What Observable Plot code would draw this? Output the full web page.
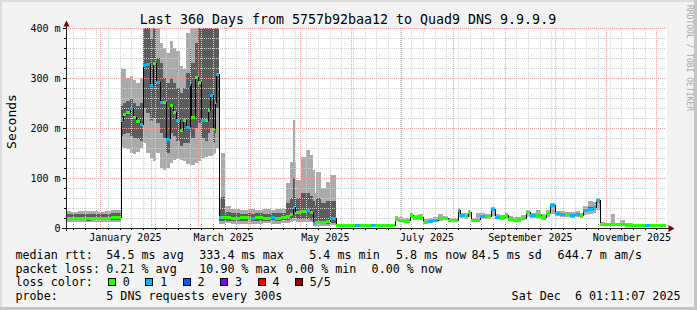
<!DOCTYPE html>
<html><head><meta charset="utf-8">
<script src="https://cdn.jsdelivr.net/npm/d3@7"></script>
<script src="https://cdn.jsdelivr.net/npm/@observablehq/plot@0.6"></script>
<style>
html,body{margin:0;padding:0;background:#f3f3f3;overflow:hidden}
#chart svg{display:block}
</style></head><body><div id="chart"></div>
<script>
// ---------- data (ms) ----------
const dates = [
 "2024-12-11T17:00Z","2024-12-15","2024-12-19","2024-12-23","2024-12-27","2024-12-31","2025-01-04","2025-01-08",
 "2025-01-13T12:00Z","2025-01-15","2025-01-17","2025-01-19","2025-01-21","2025-01-23","2025-01-25","2025-01-27",
 "2025-01-29","2025-01-31","2025-02-02","2025-02-04","2025-02-06","2025-02-08","2025-02-10","2025-02-12",
 "2025-02-14","2025-02-16","2025-02-18","2025-02-20","2025-02-22","2025-02-24","2025-02-25","2025-02-27",
 "2025-03-01","2025-03-03","2025-03-05","2025-03-07","2025-03-08","2025-03-10","2025-03-11","2025-03-12",
 "2025-03-13T16:00Z","2025-03-15","2025-03-17","2025-03-21","2025-03-26","2025-03-31","2025-04-02","2025-04-04",
 "2025-04-09","2025-04-14","2025-04-16","2025-04-20","2025-04-23","2025-04-25","2025-04-27","2025-04-28",
 "2025-04-29","2025-05-02","2025-05-05","2025-05-07","2025-05-09","2025-05-10","2025-05-11","2025-05-14",
 "2025-05-17","2025-05-19",
 "2025-05-22T16:00Z","2025-05-28","2025-06-03","2025-06-06","2025-06-13","2025-06-15","2025-06-21",
 "2025-06-27","2025-06-29","2025-07-02","2025-07-06","2025-07-08","2025-07-11","2025-07-14","2025-07-17",
 "2025-07-20","2025-07-23","2025-07-26","2025-07-29","2025-08-01","2025-08-04","2025-08-05","2025-08-08",
 "2025-08-10","2025-08-12","2025-08-15","2025-08-17","2025-08-20","2025-08-24","2025-08-26","2025-08-29",
 "2025-09-01","2025-09-03","2025-09-06","2025-09-09","2025-09-11","2025-09-14","2025-09-16","2025-09-20",
 "2025-09-23","2025-09-26","2025-09-28","2025-10-01","2025-10-04","2025-10-07","2025-10-10","2025-10-13",
 "2025-10-16","2025-10-18","2025-10-21","2025-10-24","2025-10-26",
 "2025-10-28","2025-10-31","2025-11-04","2025-11-06","2025-11-09","2025-11-12","2025-11-17","2025-11-21",
 "2025-11-24","2025-11-27","2025-11-30","2025-12-03","2025-12-06T17:00Z"
];
const median = [
 21,20,21,20,21,20,21,22,
 217,228,232,240,222,214,209,326,
 329,286,331,293,253,253,179,246,
 233,216,196,216,203,289,223,303,
 293,216,216,236,266,199,253,309,
 22,23,22,21,22,21,21,22,
 21,22,21,22,25,29,43,30,
 33,34,36,32,10,13,13,13,
 14,20,
 6,6,6,6,6,6,6,
 19,17,15,27,22,22,13,14,
 16,20,21,16,16,36,26,25,
 33,16,17,24,25,38,23,22,
 27,19,17,18,21,33,26,26,
 22,31,46,30,29,28,27,28,
 26,36,39,42,56,
 9,8,8,8,8,7,6,6,
 6,6,6,6,6
];
const loss = [
 0,0,0,0,0,0,0,0,
 1,0,0,1,0,0,1,1,
 1,1,0,1,1,0,1,0,
 0,1,0,0,1,1,0,0,
 0,1,0,0,1,0,0,1,
 1,0,0,0,0,0,1,0,
 0,1,0,0,0,0,1,0,
 0,0,1,0,1,0,0,0,
 0,1,
 0,0,1,0,1,0,0,
 0,0,0,0,0,0,0,1,
 1,0,0,0,0,1,1,0,
 0,0,0,1,0,1,1,0,
 0,0,0,0,0,0,1,0,
 0,0,1,1,1,0,1,1,
 0,1,1,1,1,
 0,0,0,0,0,0,0,0,
 1,0,0,0,0
];
const smokeLow = [
 12,12,13,12,12,13,12,12,
 162,160,158,150,148,152,160,170,
 150,140,135,150,120,116,120,130,
 136,138,136,134,128,124,126,130,
 135,140,142,145,145,148,150,160,
 8,8,10,9,9,9,9,9,
 10,9,9,10,10,12,14,14,
 13,12,12,12,5,5,5,5,
 5,6,
 5,5,5,5,5,5,5,
 14,13,11,18,17,16,10,10,
 12,15,16,12,12,22,20,19,
 22,12,13,18,19,25,18,16,
 19,14,12,13,16,22,20,19,
 17,22,28,24,23,22,21,22,
 20,26,28,30,36,
 6,6,6,6,6,5,5,5,
 5,5,5,5,5
];
const smokeHigh = [
 34,33,34,35,34,33,34,36,
 320,318,300,305,296,290,300,420,
 420,420,420,400,370,360,350,375,
 360,355,325,318,390,420,400,420,
 420,420,420,420,420,420,420,420,
 60,150,45,38,37,38,38,37,
 38,37,38,39,90,133,216,133,
 96,143,156,146,116,70,113,80,
 93,106,
 8,8,8,8,8,8,8,
 24,22,21,31,27,28,18,20,
 22,28,25,21,20,40,31,30,
 37,21,30,30,29,42,28,27,
 31,24,22,23,26,36,31,36,
 28,36,50,35,34,33,32,34,
 31,44,55,52,60,
 12,11,29,11,16,10,9,8,
 8,9,8,8,8
];
const coreLow = [
 16,16,16,15,16,16,16,16,
 185,188,190,185,180,178,175,240,
 230,215,220,210,190,180,150,190,
 185,175,165,170,170,190,180,200,
 210,180,175,190,200,170,190,240,
 14,15,15,15,15,16,15,15,
 15,16,15,16,16,18,20,18,
 18,18,18,17,8,8,8,8,
 8,10,
 5,5,5,5,5,5,5,
 17,15,13,25,20,20,11,12,
 14,18,19,14,14,33,24,23,
 30,14,15,22,23,35,21,20,
 25,17,15,16,19,30,24,24,
 20,29,42,28,27,26,25,26,
 24,33,36,39,50,
 7,7,7,7,7,6,5,5,
 5,5,5,5,5
];
const coreHigh = [
 29,28,29,29,28,28,29,30,
 245,250,255,260,250,245,250,420,
 400,380,420,340,330,300,290,300,
 290,280,270,280,310,360,330,370,
 420,420,400,420,420,400,420,420,
 40,62,32,30,29,30,29,30,
 29,30,30,31,50,60,100,65,
 60,70,70,65,55,45,60,50,
 55,55,
 7,7,7,7,7,7,7,
 21,19,17,29,24,24,15,16,
 18,22,23,18,18,38,28,27,
 35,18,19,26,27,40,25,24,
 29,21,19,20,23,35,28,28,
 24,33,48,32,31,30,29,30,
 28,38,42,45,58,
 10,9,10,9,9,8,7,7,
 7,7,7,7,7
];

const timeDomain = ["2024-12-11T17:00Z", "2025-12-06T17:00Z"];
const yTicks = [0, 100, 200, 300, 400];
const monthLabels = ["January 2025", "March 2025", "May 2025", "July 2025", "September 2025", "November 2025"];
const monthLabelDates = ["2025-01-16", "2025-03-16", "2025-05-16", "2025-07-16", "2025-09-16", "2025-11-16"];
const lossColors = ["#26ff00", "#00b8ff", "#0059ff", "#7e00ff", "#ff0000", "#a10000"];
const lossLabels = ["0", "1", "2", "3", "4", "5/5"];
const titleText = "Last 360 Days from 5757b92baa12 to Quad9 DNS 9.9.9.9";
const yTitle = "Seconds";
const rttStats = ["54.5 ms avg", "333.4 ms max", "5.4 ms min", "5.8 ms now", "84.5 ms sd", "644.7 m am/s"];
const lossStats = ["0.21 % avg", "10.90 % max", "0.00 % min", "0.00 % now"];
const probeText = "5 DNS requests every 300s";
const stampText = "Sat Dec  6 01:11:07 2025";
const watermark = "RRDTOOL / TOBI OETIKER";

// ---------- build ----------
const rows = dates.map((d, i) => ({
  date: new Date(d), med: median[i], loss: loss[i],
  lo: smokeLow[i], hi: smokeHigh[i], lo2: coreLow[i], hi2: coreHigh[i]
}));
rows.forEach((r, i) => { r.next = i < rows.length - 1 ? rows[i + 1].date : r.date; r.color = lossColors[r.loss]; });

const dom = timeDomain.map(d => new Date(d));
const weeks = d3.utcMonday.range(dom[0], dom[1]);
const months = d3.utcMonth.range(dom[0], dom[1]);
const yMinor = d3.range(20, 400, 20).filter(v => v % 100 !== 0);
const labelDates = monthLabelDates.map(d => new Date(d));
const labelByTime = new Map(labelDates.map((d, i) => [+d, monthLabels[i]]));

const FONT = "'DejaVu Sans Mono', monospace";
const minorGrid = "#cfcfcf";
const majorGrid = "#eda3a3";

const plot = Plot.plot({
  width: 697, height: 310,
  marginLeft: 66, marginRight: 31, marginTop: 28, marginBottom: 82,
  style: {background: "transparent", fontFamily: FONT, fontSize: "10px", color: "#000", overflow: "visible"},
  x: {type: "utc", domain: dom, axis: null},
  y: {domain: [0, 400], axis: null},
  color: {type: "identity"},
  marks: [
    Plot.frame({fill: "#ffffff", stroke: null}),
    Plot.areaY(rows, {x: "date", y1: "lo", y2: "hi", curve: "step-after", fill: "#aaaaaa", clip: true}),
    Plot.areaY(rows, {x: "date", y1: "lo2", y2: "hi2", curve: "step-after", fill: "#5c5c5c", clip: true}),
    Plot.ruleY(yMinor, {stroke: minorGrid, strokeDasharray: "1,1"}),
    Plot.ruleX(weeks, {stroke: minorGrid, strokeDasharray: "1,1"}),
    Plot.ruleY(yTicks.filter(v => v > 0), {stroke: majorGrid, strokeDasharray: "1,1"}),
    Plot.ruleX(months, {stroke: majorGrid, strokeDasharray: "1,1"}),
    Plot.line(rows, {x: "date", y: "med", curve: "step-after", stroke: "#000", strokeWidth: 1, clip: true}),
    Plot.ruleY(rows.slice(0, -1), {x1: "date", x2: "next", y: "med", stroke: "color", strokeWidth: 3, clip: true}),
    Plot.axisY(yMinor, {anchor: "left", tickSize: 2, tickFormat: () => "", label: null}),
    Plot.axisY(yTicks, {anchor: "left", tickSize: 3, tickPadding: 3, tickFormat: v => v ? v + " m" : "0", label: null, fontSize: 10}),
    Plot.axisX(weeks, {anchor: "bottom", tickSize: 2, tickFormat: () => "", label: null}),
    Plot.axisX(labelDates, {anchor: "bottom", tickSize: 0, tickPadding: 5.5, tickFormat: d => labelByTime.get(+d), label: null, fontSize: 10})
  ]
});
document.getElementById("chart").appendChild(plot);

// ---------- rrdtool style decorations ----------
const svg = d3.select(plot).attr("shape-rendering", "crispEdges");
const deco = svg.append("g");
// axes lines
deco.append("line").attr("x1", 66.5).attr("x2", 66.5).attr("y1", 231).attr("y2", 24).attr("stroke", "#202020");
deco.append("line").attr("x1", 62).attr("x2", 670).attr("y1", 228.5).attr("y2", 228.5).attr("stroke", "#202020");
deco.append("path").attr("d", "M63.5,26.5L69.5,26.5L66.5,20.5Z").attr("fill", "#800000").attr("shape-rendering", "auto");
deco.append("path").attr("d", "M668.5,225L668.5,232L674.5,228.5Z").attr("fill", "#800000").attr("shape-rendering", "auto");
// border
deco.append("rect").attr("x", 0).attr("y", 0).attr("width", 697).attr("height", 2).attr("fill", "#dcdcdc");
deco.append("rect").attr("x", 0).attr("y", 0).attr("width", 2).attr("height", 310).attr("fill", "#dcdcdc");
deco.append("rect").attr("x", 0).attr("y", 307).attr("width", 697).attr("height", 3).attr("fill", "#c6c6c6");
deco.append("rect").attr("x", 694).attr("y", 0).attr("width", 3).attr("height", 310).attr("fill", "#c6c6c6");

const txt = (x, y, s, size, anchor = "start", fill = "#000") =>
  deco.append("text").attr("x", x).attr("y", y).attr("text-anchor", anchor)
    .attr("font-family", FONT).attr("font-size", size).attr("fill", fill)
    .attr("xml:space", "preserve").style("white-space", "pre").text(s);

txt(348, 24, titleText, 13.3, "middle");
deco.append("text").attr("transform", "translate(15.5,121.5) rotate(-90)").attr("text-anchor", "middle")
  .attr("font-family", FONT).attr("font-size", 13).text(yTitle);
deco.append("text").attr("transform", "translate(687,5) rotate(90)").attr("text-anchor", "start")
  .attr("font-family", FONT).attr("font-size", 8).attr("fill", "#a8a8a8").text(watermark);

const LF = 11.7;
txt(15.5, 258.5, "median rtt:", LF);
[106.3, 199.3, 309.3, 396, 471.5, 557.6].forEach((x, i) => txt(x, 258.5, rttStats[i], LF));
txt(15.5, 272.5, "packet loss:", LF);
[106.3, 199.3, 286, 371.6].forEach((x, i) => txt(x, 272.5, lossStats[i], LF));
txt(15.5, 286, "loss color:", LF);
lossColors.forEach((c, i) => {
  const bx = 108.5 + i * 37.4;
  deco.append("rect").attr("x", bx).attr("y", 278.5).attr("width", 7).attr("height", 7)
    .attr("fill", c).attr("stroke", "#000").attr("stroke-width", 1);
  txt(bx + 14.3, 286, lossLabels[i], LF);
});
txt(15.5, 300, "probe:", LF);
txt(106.3, 300, probeText, LF);
txt(680.5, 300, stampText, LF, "end");
</script></body></html>
